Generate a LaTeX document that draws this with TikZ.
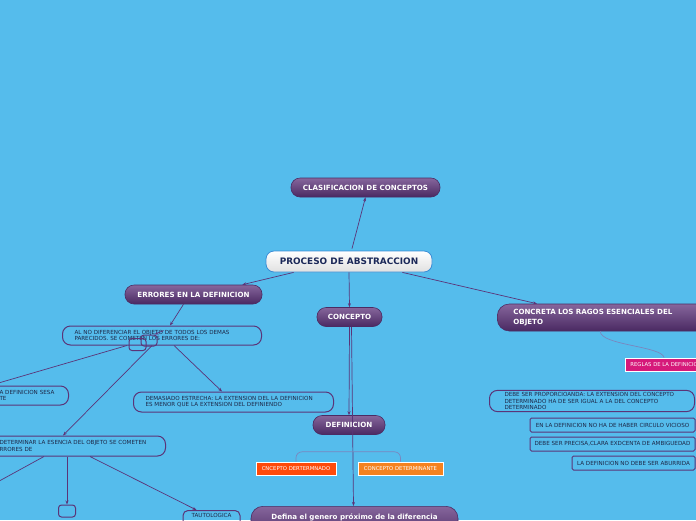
\documentclass[tikz,border=0pt]{standalone}
\usepackage{fontspec}
\setmainfont{DejaVu Sans}
\usepackage{tikz}
\usetikzlibrary{arrows.meta,positioning,shapes.geometric,calc}
\usepackage{xcolor}
\definecolor{sky}{HTML}{55BCEC}
\definecolor{plumtop}{HTML}{86669C}
\definecolor{plumbot}{HTML}{4A2962}
\definecolor{plumedge}{HTML}{4B2B63}
\definecolor{wire}{HTML}{5B3478}
\definecolor{soft}{HTML}{7A86BE}
\definecolor{ink}{HTML}{1D2747}
\definecolor{navy}{HTML}{1B2858}
\definecolor{rim}{HTML}{3A8DD6}
\definecolor{hot}{HTML}{FF4A0A}
\definecolor{amber}{HTML}{F5821F}
\definecolor{rose}{HTML}{D6197A}

\tikzset{
  root/.style={draw=rim, line width=0.8pt, rounded corners=8pt, top color=white,
    bottom color=black!12, text=navy, font=\fontsize{8.9}{10}\selectfont\bfseries,
    minimum width=166pt, minimum height=21pt, inner sep=0pt},
  topic/.style={draw=plumedge, line width=0.6pt, rounded corners=9pt, top color=plumtop,
    bottom color=plumbot, text=white, font=\fontsize{7.1}{8}\selectfont\bfseries,
    minimum height=19pt, inner sep=0pt},
  note/.style={draw=wire, line width=1pt, rounded corners=8pt, text=ink,
    font=\fontsize{5.6}{6.5}\selectfont, align=left, inner ysep=2pt},
  rulebox/.style={draw=wire, line width=1pt, rounded corners=1.5pt, text=ink,
    font=\fontsize{5.6}{6.5}\selectfont, minimum height=14pt, inner sep=0pt},
  tag/.style={draw=white, line width=0.8pt, text=white,
    font=\fontsize{5.3}{6.2}\selectfont, minimum height=13pt, inner sep=0pt},
  stub/.style={draw=wire, line width=1pt, rounded corners=3pt, minimum width=17pt,
    minimum height=12pt, inner sep=0pt},
  link/.style={draw=wire, line width=0.7pt, -{Stealth[length=4pt,width=3pt]}},
  brace/.style={draw=soft, line width=0.7pt, rounded corners=6pt}
}

\begin{document}
\begin{tikzpicture}[x=1pt,y=-1pt]
  % Background
  \fill[sky] (0,0) rectangle (696,520);
  \useasboundingbox (0,0) rectangle (696,520);

  % Centre and top
  \node[root] (proc) at (349,261.5) {PROCESO DE ABSTRACCION};
  \node[topic, minimum width=149pt] (clas) at (365.5,187.5) {CLASIFICACION DE CONCEPTOS};

  % Main branches
  \node[topic, minimum width=137pt] (err) at (193.5,294.5) {ERRORES EN LA DEFINICION};
  \node[topic, minimum width=65pt] (conc) at (349.5,317) {CONCEPTO};
  \node[topic, anchor=west, text width=230pt, align=left, inner xsep=16pt,
    minimum height=27pt, rounded corners=12pt, font=\fontsize{7.1}{9.5}\selectfont\bfseries]
    (ragos) at (497,317.5) {CONCRETA LOS RAGOS ESENCIALES DEL\\OBJETO};
  \node[topic, minimum width=72pt] (def) at (349,425) {DEFINICION};
  \node[topic, anchor=north, minimum width=207pt, minimum height=34pt, rounded corners=12pt,
    text depth=14pt] (genero) at (354.5,506) {Defina el genero próximo de la diferencia};

  % Right side rules
  \node[tag, fill=rose, anchor=west, inner xsep=5pt] (reglas) at (625,364.5) {REGLAS DE LA DEFINICION};
  \node[note, anchor=east, text width=175pt, inner xsep=15pt] (prop) at (695,401)
    {DEBE SER PROPORCIOANDA: LA EXTENSION DEL CONCEPTO\\DETERMINADO HA DE SER IGUAL A LA DEL CONCEPTO\\DETERMINADO};
  \node[rulebox, minimum width=165pt] (circ) at (612.5,425) {EN LA DEFINICION NO HA DE HABER CIRCULO VICIOSO};
  \node[rulebox, minimum width=165pt] (prec) at (612.5,444) {DEBE SER PRECISA,CLARA EXDCENTA DE AMBIGUEDAD};
  \node[rulebox, minimum width=123pt] (abur) at (633.5,463) {LA DEFINICION NO DEBE SER ABURRIDA};

  % Tags under DEFINICION
  \node[tag, fill=hot, minimum width=80pt] (dado) at (296,468.5) {CNCEPTO DERTERMNADO};
  \node[tag, fill=amber, minimum width=85pt] (nante) at (400.5,468.5) {CONCEPTO DETERMINANTE};

  % Left side notes
  \node[note, anchor=west, text width=175pt, inner xsep=12pt, minimum height=19pt] (alno) at (62,335.5)
    {AL NO DIFERENCIAR EL OBJETO DE TODOS LOS DEMAS\\PARECIDOS. SE COMETEN LOS ERRORES DE:};
  \node[note, anchor=east, text width=57pt, inner xsep=12pt, minimum height=19pt] (amplia) at (69,395.5)
    {A DEFINICION SESA\\TE};
  \node[note, anchor=west, text width=176pt, inner xsep=12pt, minimum height=20pt] (estrecha) at (133,402)
    {DEMASIADO ESTRECHA: LA EXTENSION DEL LA DEFINICION\\ES MENOR QUE LA EXTENSION DEL DEFINIENDO};
  \node[note, anchor=east, text width=154pt, inner xsep=12pt, minimum height=20pt] (esencia) at (166,446)
    {DETERMINAR LA ESENCIA DEL OBJETO SE COMETEN\\RRORES DE};
  \node[stub] (stubA) at (137.5,344.5) {};
  \node[stub, minimum width=16pt, minimum height=11pt] (stubB) at (149,340.5) {};
  \node[stub] (stubC) at (67,511) {};
  \node[rulebox, rounded corners=5pt, anchor=north, minimum width=57pt, minimum height=18pt,
    text depth=8pt] (tauto) at (211.5,510) {TAUTOLOGICA};
  \coordinate (lost) at (-30,497);

  % Connectors
  \draw[link] (proc.north) ++(3,-2) -- (clas.south);
  \draw[link] (proc.south west) ++(28,0) -- ([xshift=-20pt]err.north east);
  \draw[link] (proc.south) -- (conc.north);
  \draw[link] (proc.south east) ++(-30,0) -- ([xshift=40pt]ragos.north west);
  \draw[link] (conc.south) -- (def.north);
  \draw[link] ([xshift=2pt]conc.south) -- ([xshift=-1pt]genero.north);
  \draw[link] ([xshift=-10pt]err.south) -- ([xshift=108pt]alno.north west);
  \draw[link] ([xshift=65pt]alno.south west) -- ([xshift=3pt]amplia.north west);
  \draw[link] ([xshift=90pt]alno.south west) -- ([xshift=76pt]esencia.north west);
  \draw[link] ([xshift=112pt]alno.south west) -- ([xshift=89pt]estrecha.north west);
  \draw[link] ([xshift=-2pt]stubB.north east) ++(8,-4) -- ([xshift=-3pt]stubB.north east);
  \draw[link] ([xshift=-99pt]esencia.south east) -- (stubC.north);
  \draw[wire, line width=0.7pt] ([xshift=-122pt]esencia.south east) -- (lost);
  \draw[link] ([xshift=-76pt]esencia.south east) -- ([xshift=14pt]tauto.north west);

  % Soft brackets
  \draw[brace] (dado.north) |- ($(def.south)+(0,17)$) -| (nante.north);
  \draw[soft, line width=0.7pt] (ragos.south) ++(-28,0) .. controls ++(0,14) and (662,346) .. ([xshift=-2pt]reglas.north);
\end{tikzpicture}
\end{document}
